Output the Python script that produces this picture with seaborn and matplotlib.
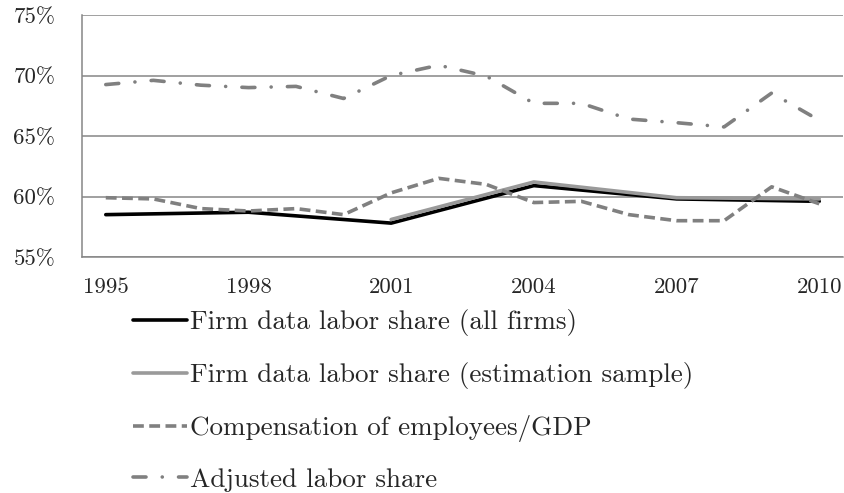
import numpy as np
import pandas as pd
import matplotlib
matplotlib.use('Agg')
import matplotlib.pyplot as plt
import seaborn as sns

# --- data ---
years = list(range(1995, 2011))
firm_years = [1995, 1998, 2001, 2004, 2007, 2010]
firm_all = [58.5, 58.7, 57.8, 60.9, 59.8, 59.6]
est_years = [2001, 2004, 2007, 2010]
firm_est = [58.1, 61.2, 59.9, 59.8]
comp_gdp = [59.9, 59.8, 59.0, 58.8, 59.0, 58.5, 60.3, 61.5, 61.0, 59.5,
            59.6, 58.5, 58.0, 58.0, 60.8, 59.4]
adjusted = [69.25, 69.6, 69.2, 69.0, 69.1, 68.1, 70.0, 70.85, 69.95, 67.7,
            67.7, 66.4, 66.1, 65.75, 68.55, 66.3]
labels = ['Firm data labor share (all firms)',
          'Firm data labor share (estimation sample)',
          'Compensation of employees/GDP',
          'Adjusted labor share']
y_ticks = [55, 60, 65, 70, 75]

sns.set_style('white')
plt.rcParams['font.family'] = ['cmr10', 'DejaVu Serif']
plt.rcParams['mathtext.fontset'] = 'cm'
plt.rcParams['axes.unicode_minus'] = False

grid_col = '#868686'
fig = plt.figure(figsize=(8.45, 4.93), dpi=100)
ax = fig.add_axes([82 / 845, 1 - 257 / 493, (843 - 82) / 845, (257 - 15) / 493])

sns.lineplot(x=firm_years, y=firm_all, ax=ax, color='black', lw=2.6,
             label=labels[0])
sns.lineplot(x=est_years, y=firm_est, ax=ax, color='#9a9a9a', lw=2.6,
             label=labels[1])
sns.lineplot(x=years, y=comp_gdp, ax=ax, color='#808080', lw=2.6,
             linestyle=(0, (3, 1.5)), label=labels[2])
sns.lineplot(x=years, y=adjusted, ax=ax, color='#808080', lw=2.6,
             linestyle=(0, (3.6, 4.5, 0.01, 4.5)), dash_capstyle='round',
             label=labels[3])

ax.set_xlim(1994.5, 2010.5)
ax.set_ylim(55, 75)
ax.set_yticks(y_ticks)
ax.set_yticklabels([f'{v}%' for v in y_ticks])
ax.set_xticks(years + [2010.5])
ax.set_xticklabels([str(y) if (y - 1995) % 3 == 0 else '' for y in years] + [''])
ax.grid(axis='y', color=grid_col, lw=1.1)
ax.set_axisbelow(True)
for s in ['top', 'right']:
    ax.spines[s].set_visible(False)
for s in ['left', 'bottom']:
    ax.spines[s].set_color(grid_col)
    ax.spines[s].set_linewidth(1.1)
ax.tick_params(axis='x', direction='out', length=3.6, width=1.1, color=grid_col,
               labelsize=16.5, pad=11)
ax.tick_params(axis='y', direction='out', length=7.2, width=1.1, color=grid_col,
               labelsize=16.5, pad=12)
ax.set_xlabel('')
ax.set_ylabel('')

handles, labs = ax.get_legend_handles_labels()
ax.get_legend().remove()
fig.legend(handles, labs, loc='upper left', bbox_to_anchor=(133 / 845, 1 - 309 / 493),
           frameon=False, fontsize=19.5, handlelength=2.0, handletextpad=0.1,
           labelspacing=0.96, borderpad=0, borderaxespad=0)

fig.savefig('out.png', dpi=100)
